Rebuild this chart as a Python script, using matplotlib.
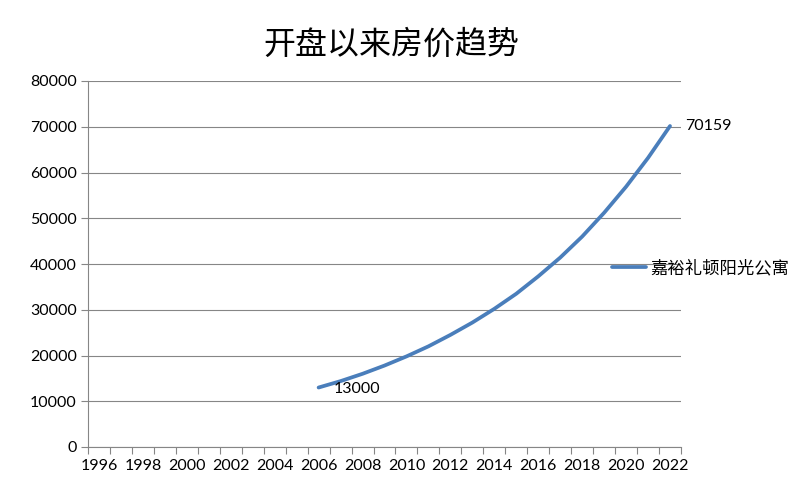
import matplotlib
matplotlib.use("Agg")
import matplotlib.pyplot as plt
import numpy as np

title = "开盘以来房价趋势"
series_name = "嘉裕礼顿阳光公寓"
years = list(range(1996, 2023))
tick_years = list(range(1996, 2023, 2))
# prices (no data before 2006)
price_years = [2006, 2007, 2008, 2009, 2010, 2011, 2012, 2013, 2014,
               2015, 2016, 2017, 2018, 2019, 2020, 2021, 2022]
prices = [13000, 14400, 16000, 17800, 19800, 22000, 24500, 27200, 30200,
          33500, 37300, 41400, 46000, 51200, 56900, 63200, 70159]
labelled = {2006: "13000", 2022: "70159"}
yticks = [0, 10000, 20000, 30000, 40000, 50000, 60000, 70000, 80000]

plt.rcParams['font.family'] = ['Lato', 'Noto Sans CJK SC', 'DejaVu Sans']

fig = plt.figure(figsize=(8.1, 5.0), dpi=100)
ax = fig.add_axes([88/810, 1-447/500, (681-88)/810, (447-81)/500])

line_color = "#4A7EBB"
grid_color = "#868686"

ax.plot(price_years, prices, color=line_color, lw=2.7, solid_capstyle='round',
        solid_joinstyle='round', label=series_name, zorder=3)

ax.set_xlim(years[0] - 0.5, years[-1] + 0.5)
ax.set_ylim(yticks[0], yticks[-1])
ax.set_yticks(yticks)
ax.set_yticklabels([str(v) for v in yticks], fontsize=11.5)
ax.set_xticks(tick_years)
ax.set_xticklabels([str(y) for y in tick_years], fontsize=11.5)
ax.set_xticks([y - 0.5 for y in years] + [years[-1] + 0.5], minor=True)
ax.tick_params(axis='x', which='major', length=0, pad=9)
ax.tick_params(axis='x', which='minor', length=5, color=grid_color, width=0.8)
ax.tick_params(axis='y', length=5, color=grid_color, width=0.8, pad=3)

ax.yaxis.grid(True, color=grid_color, lw=0.8)
ax.set_axisbelow(True)
for s in ['top', 'right']:
    ax.spines[s].set_visible(False)
for s in ['left', 'bottom']:
    ax.spines[s].set_color(grid_color)
    ax.spines[s].set_linewidth(0.8)

for yr, txt in labelled.items():
    v = prices[price_years.index(yr)]
    if yr == price_years[0]:
        ax.annotate(txt, (yr, v), xytext=(11, -1), textcoords='offset points',
                    ha='left', va='center', fontsize=11.5)
    else:
        ax.annotate(txt, (yr, v), xytext=(11, 0), textcoords='offset points',
                    ha='left', va='center', fontsize=11.5)

fig.text(391/810, 1-45/500, title, ha='center', va='center', fontsize=23,
         family=['Noto Sans CJK SC', 'DejaVu Sans'])

leg = fig.legend(handles=ax.get_lines(), labels=[series_name],
                 loc='center left', bbox_to_anchor=(612/810, 1-268/500),
                 frameon=False, handlelength=1.95, handletextpad=0.25,
                 borderaxespad=0.0, borderpad=0.0,
                 prop={'family': ['Noto Sans CJK SC', 'DejaVu Sans'], 'size': 12.5})

fig.savefig("out.png", dpi=100)
